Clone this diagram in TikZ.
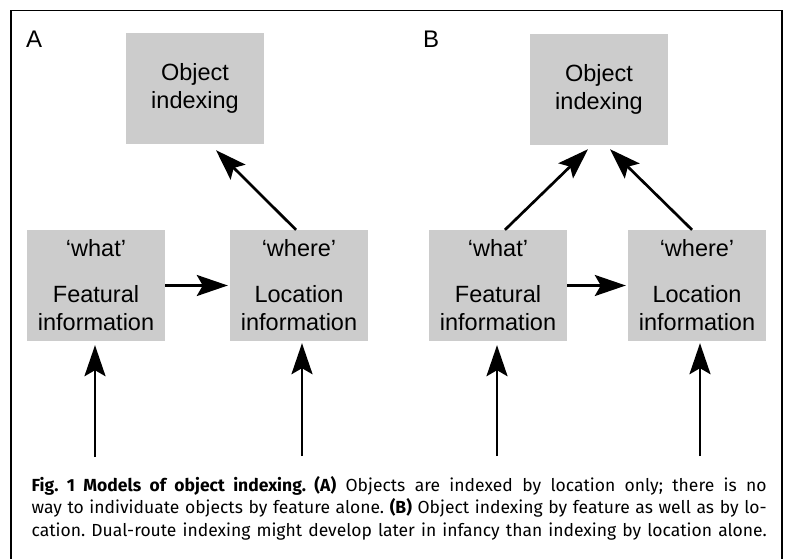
\documentclass[tikz,border=0pt]{standalone}
\usepackage{fontspec}
\setmainfont{Liberation Sans}
\newfontfamily\capfont{Fira Sans}
\frenchspacing
\usetikzlibrary{arrows.meta}
\tikzset{
  box/.style={rectangle,fill=black!20,minimum width=138pt,minimum height=111pt,
    inner sep=0pt,align=center,font=\fontsize{23.5}{28.5}\selectfont},
  arr/.style={line width=2.7pt,-{Stealth[length=31pt,width=21pt,inset=6pt]}},
  panel/.style={anchor=base west,inner sep=0pt,font=\fontsize{24}{28}\selectfont},
  capline/.style={anchor=base west,inner sep=0pt,font=\capfont\fontsize{17.5}{22}\selectfont}
}
\begin{document}
\begin{tikzpicture}[x=1pt,y=-1pt]
    \useasboundingbox (0,0) rectangle (788,559);
    %% Frame, open at the bottom
    \draw[line width=1.3pt] (11,559) -- (11,10.5) -- (782,10.5) -- (782,559);
    %% Model A
    \node[panel] (labA) at (26,48) {A};
    \node[box] (objA) at (195,88.5) {Object\\indexing};
    \node[box] (whatA) at (96,285.5) {‘what’\\[17pt]Featural\\information};
    \node[box] (whereA) at (299,285.5) {‘where’\\[17pt]Location\\information};
    \coordinate (inA1) at (95,457);
    \coordinate (inA2) at (302,456);
    \draw[arr,shorten >=2pt] (whatA) -- (whereA);
    \draw[arr] ([xshift=-3pt]whereA.north) -- ([xshift=21pt,yshift=-6pt]objA.south);
    \draw[arr] (inA1) -- ([yshift=-4pt]inA1 |- whatA.south);
    \draw[arr] (inA2) -- ([yshift=-2pt]inA2 |- whereA.south);
    %% Model B
    \node[panel] (labB) at (423,48) {B};
    \node[box] (objB) at (599,89.5) {Object\\indexing};
    \node[box] (whatB) at (498,285.5) {‘what’\\[17pt]Featural\\information};
    \node[box] (whereB) at (697,285.5) {‘where’\\[17pt]Location\\information};
    \coordinate (inB1) at (497,456);
    \coordinate (inB2) at (700,456);
    \draw[arr,shorten >=2pt] (whatB) -- (whereB);
    \draw[arr] ([xshift=7pt]whatB.north) -- ([xshift=-11pt,yshift=-4pt]objB.south);
    \draw[arr] ([xshift=-5pt]whereB.north) -- ([xshift=11pt,yshift=-4pt]objB.south);
    \draw[arr] (inB1) -- ([yshift=-4pt]inB1 |- whatB.south);
    \draw[arr] (inB2) -- ([yshift=-2pt]inB2 |- whereB.south);
    %% Caption
    \node[capline] (cap1) at (31.5,491) {\makebox[735pt][s]{\textbf{Fig. 1 Models of object indexing. (A)} Objects are indexed by location only; there is no}};
    \node[capline] (cap2) at (31.5,513.5) {\makebox[735pt][s]{way to individuate objects by feature alone. \textbf{(B)} Object indexing by feature as well as by lo-}};
    \node[capline] (cap3) at (31.5,536) {\makebox[735pt][s]{cation. Dual-route indexing might develop later in infancy than indexing by location alone.}};
\end{tikzpicture}
\end{document}
